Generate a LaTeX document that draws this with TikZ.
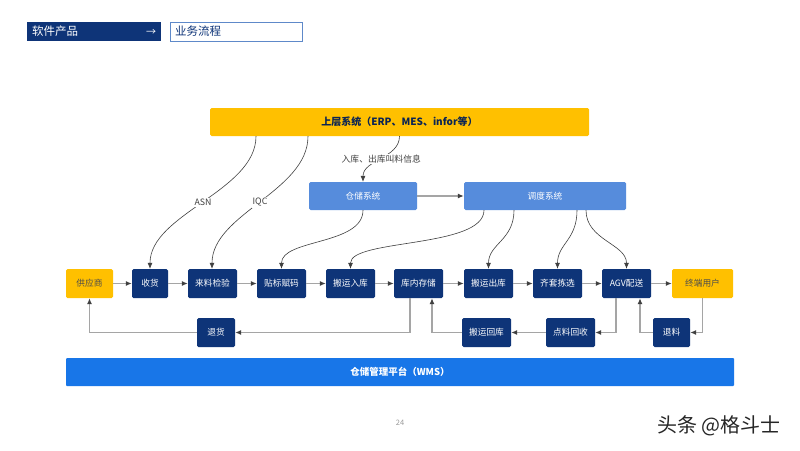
\documentclass[tikz,border=0pt]{standalone}
\usepackage{fontspec}
\setmainfont{Noto Sans CJK SC}
\usepackage{tikz}
\usetikzlibrary{arrows.meta}
\definecolor{navy}{RGB}{14,52,120}
\definecolor{sysblue}{RGB}{86,140,220}
\definecolor{wmsblue}{RGB}{24,118,232}
\definecolor{amber}{RGB}{255,192,0}
\definecolor{flowgray}{RGB}{165,165,165}
\definecolor{tipgray}{RGB}{64,64,64}

\begin{document}
\begin{tikzpicture}[x=1pt, y=-1pt, every node/.style = {inner sep=0pt, font=\fontsize{8.7}{10}\selectfont}]

\tikzstyle{proc_node} = [rectangle, rounded corners=1.5pt, fill=navy, text=white, minimum height=29pt]
\tikzstyle{end_node} = [rectangle, rounded corners=1.5pt, fill=amber, text=black!70, minimum height=29pt]
\tikzstyle{sys_node} = [rectangle, rounded corners=1.5pt, fill=sysblue, text=white, minimum height=28pt]
\tikzstyle{flow} = [flowgray, line width=1.1pt, -{Latex[length=6pt, width=5pt, color=tipgray]}]
\tikzstyle{info} = [tipgray, line width=0.6pt, -{Latex[length=6pt, width=5pt]}]
\tikzstyle{info_label} = [fill=white, inner sep=1pt, text=black!75, font=\fontsize{8.8}{10}\selectfont]

\useasboundingbox[fill=white] (0,0) rectangle (800,450);

\node[rectangle, fill=navy, text=white, minimum width=134pt, minimum height=19pt, font=\fontsize{11.5}{12}\selectfont] (prod) at (94,31.5) {\makebox[124pt]{软件产品\hfill{\fontsize{10}{12}\selectfont →}}};
\node[rectangle, draw=sysblue!80!gray, fill=white, text=navy, minimum width=132pt, minimum height=19pt, font=\fontsize{11.5}{12}\selectfont] (flowtitle) at (236,31.5) {\makebox[122pt][l]{业务流程}};

\node[rectangle, rounded corners=1.5pt, fill=amber, text=navy!70!black, minimum width=379pt, minimum height=28pt, font=\fontsize{10}{11}\bfseries] (sc) at (399.5,122) {上层系统（ERP、MES、infor等）};
\node[sys_node, minimum width=108pt] (ccxt) at (363,196) {仓储系统};
\node[sys_node, minimum width=162pt] (ddxt) at (545,196) {调度系统};

\node[end_node, minimum width=47pt] (gys) at (89.5,283.5) {供应商};
\node[proc_node, minimum width=36pt] (sh) at (150,283.5) {收货};
\node[proc_node, minimum width=49pt] (lljy) at (212.5,283.5) {来料检验};
\node[proc_node, minimum width=49pt] (tbfm) at (281.5,283.5) {贴标赋码};
\node[proc_node, minimum width=49pt] (byrk) at (350.5,283.5) {搬运入库};
\node[proc_node, minimum width=49pt] (kncc) at (418.5,283.5) {库内存储};
\node[proc_node, minimum width=49pt] (byck) at (488.5,283.5) {搬运出库};
\node[proc_node, minimum width=49pt] (qtjx) at (557.5,283.5) {齐套拣选};
\node[proc_node, minimum width=49pt] (agv) at (626.5,283.5) {AGV配送};
\node[end_node, minimum width=61pt] (zdyh) at (702.5,283.5) {终端用户};

\node[proc_node, minimum width=38pt] (th) at (216,332.5) {退货};
\node[proc_node, minimum width=49pt] (byhk) at (486.5,332.5) {搬运回库};
\node[proc_node, minimum width=49pt] (dlhs) at (570.5,332.5) {点料回收};
\node[proc_node, minimum width=37pt] (tl) at (671.5,332.5) {退料};

\node[rectangle, rounded corners=1pt, fill=wmsblue, text=white, minimum width=668pt, minimum height=28pt, font=\fontsize{9.5}{10}\bfseries] (wms) at (400,372) {仓储管理平台（WMS）};

\node[text=black!40, font=\fontsize{7.5}{8}\selectfont] (page) at (400,423) {24};
\node[text=black!85, font=\fontsize{20}{22}\selectfont] (mark) at (719,426) {头条 @格斗士};

\draw[flow] (gys) -- (sh);
\draw[flow] (sh) -- (lljy);
\draw[flow] (lljy) -- (tbfm);
\draw[flow] (tbfm) -- (byrk);
\draw[flow] (byrk) -- (kncc);
\draw[flow] (kncc) -- (byck);
\draw[flow] (byck) -- (qtjx);
\draw[flow] (qtjx) -- (agv);
\draw[flow] (agv) -- (zdyh);
\draw[flow] ([xshift=-8.5pt]kncc.south) |- (th.east);
\draw[flow] (th.west) -| (gys.south);
\draw[flow] ([xshift=-10.5pt]agv.south) |- (dlhs.east);
\draw[flow] (dlhs) -- (byhk);
\draw[flow] (byhk.west) -| ([xshift=13.5pt]kncc.south);
\draw[flow] (zdyh.south) |- (tl.east);
\draw[flow] (tl.west) -| ([xshift=13.5pt]agv.south);
\draw[flow] (ccxt) -- (ddxt);

\draw[info] ([xshift=-143.5pt]sc.south) .. controls +(0,55) and +(0,-55) .. (sh.north) node[pos=0.5, info_label] {ASN};
\draw[info] ([xshift=-91.5pt]sc.south) .. controls +(0,55) and +(0,-55) .. ([xshift=-0.5pt]lljy.north) node[pos=0.5, info_label] {IQC};
\draw[info] (sc.south) .. controls +(0,22) and +(0,-22) .. (ccxt.north) node[pos=0.5, info_label] {入库、出库叫料信息};
\draw[info] (ccxt.south) .. controls +(0,35) and +(0,-30) .. (tbfm.north);
\draw[info] ([xshift=-61pt]ddxt.south) .. controls +(0,38) and +(0,-30) .. (byrk.north);
\draw[info] ([xshift=-31pt]ddxt.south) .. controls +(0,30) and +(0,-25) .. (byck.north);
\draw[info] ([xshift=32pt]ddxt.south) .. controls +(0,30) and +(0,-25) .. (qtjx.north);
\draw[info] ([xshift=41pt]ddxt.south) .. controls +(0,30) and +(0,-25) .. (agv.north);
\end{tikzpicture}
\end{document}
